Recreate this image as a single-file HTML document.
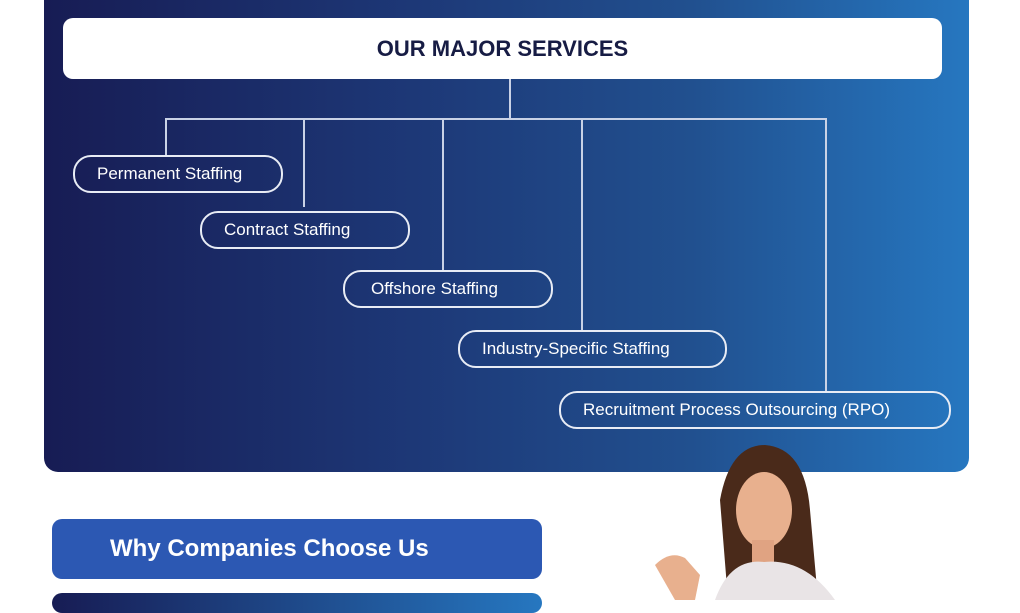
<!DOCTYPE html>
<html><head><style>
body{margin:0;width:1020px;height:600px;background:#fff;position:relative;overflow:hidden;font-family:"Liberation Sans",sans-serif}
.panel{position:absolute;left:44px;top:0;width:925px;height:472px;border-radius:0 0 14px 14px;background:linear-gradient(90deg,#171c54 0%,#1d3877 40%,#21508f 70%,#2677c0 100%)}
.hdr{position:absolute;left:63px;top:18px;width:879px;height:61px;background:#fff;border-radius:10px;text-align:center;line-height:61px;font-weight:bold;font-size:22px;color:#171c44}
.pill{position:absolute;height:34px;border:2px solid #e8ecf5;border-radius:18px;color:#fff;font-size:17px;line-height:34px;box-sizing:content-box;padding-left:22px}
.ln{position:absolute;background:#c9d2e6}
.why{position:absolute;left:52px;top:519px;width:490px;height:60px;background:#2c58b3;border-radius:10px;color:#fff;font-weight:bold;font-size:24px;line-height:60px;padding-left:58px;box-sizing:border-box}
.dark{position:absolute;left:52px;top:593px;width:490px;height:20px;border-radius:10px;background:linear-gradient(90deg,#171c54,#2677c0)}
</style></head><body>
<div class="panel"></div>
<div class="hdr">OUR MAJOR SERVICES</div>
<div class="ln" style="left:509px;top:79px;width:2px;height:39px"></div>
<div class="ln" style="left:165px;top:118px;width:662px;height:2px"></div>
<div class="ln" style="left:165px;top:118px;width:2px;height:37px"></div>
<div class="ln" style="left:303px;top:118px;width:2px;height:89px"></div>
<div class="ln" style="left:442px;top:118px;width:2px;height:152px"></div>
<div class="ln" style="left:581px;top:118px;width:2px;height:212px"></div>
<div class="ln" style="left:825px;top:118px;width:2px;height:273px"></div>
<div class="pill" style="left:73px;top:155px;width:184px">Permanent Staffing</div>
<div class="pill" style="left:200px;top:211px;width:184px">Contract Staffing</div>
<div class="pill" style="left:343px;top:270px;width:184px;padding-left:26px;width:180px">Offshore Staffing</div>
<div class="pill" style="left:458px;top:330px;width:243px">Industry-Specific Staffing</div>
<div class="pill" style="left:559px;top:391px;width:366px">Recruitment Process Outsourcing (RPO)</div>
<div class="why">Why Companies Choose Us</div>
<div class="dark"></div>
<svg style="position:absolute;left:640px;top:440px" width="220" height="160">
<path d="M88 160 L80 60 Q90 5 125 5 Q165 8 170 70 L178 160 Z" fill="#4a2a1a"/>
<ellipse cx="124" cy="70" rx="28" ry="38" fill="#e8b08e"/>
<rect x="112" y="100" width="22" height="25" fill="#e0a382"/>
<path d="M75 160 Q90 118 124 122 Q165 118 195 160 Z" fill="#e9e4e6"/>
<path d="M15 125 Q30 110 45 118 L60 135 L55 160 L35 160 Z" fill="#e8b08e"/>
</svg>
</body></html>
